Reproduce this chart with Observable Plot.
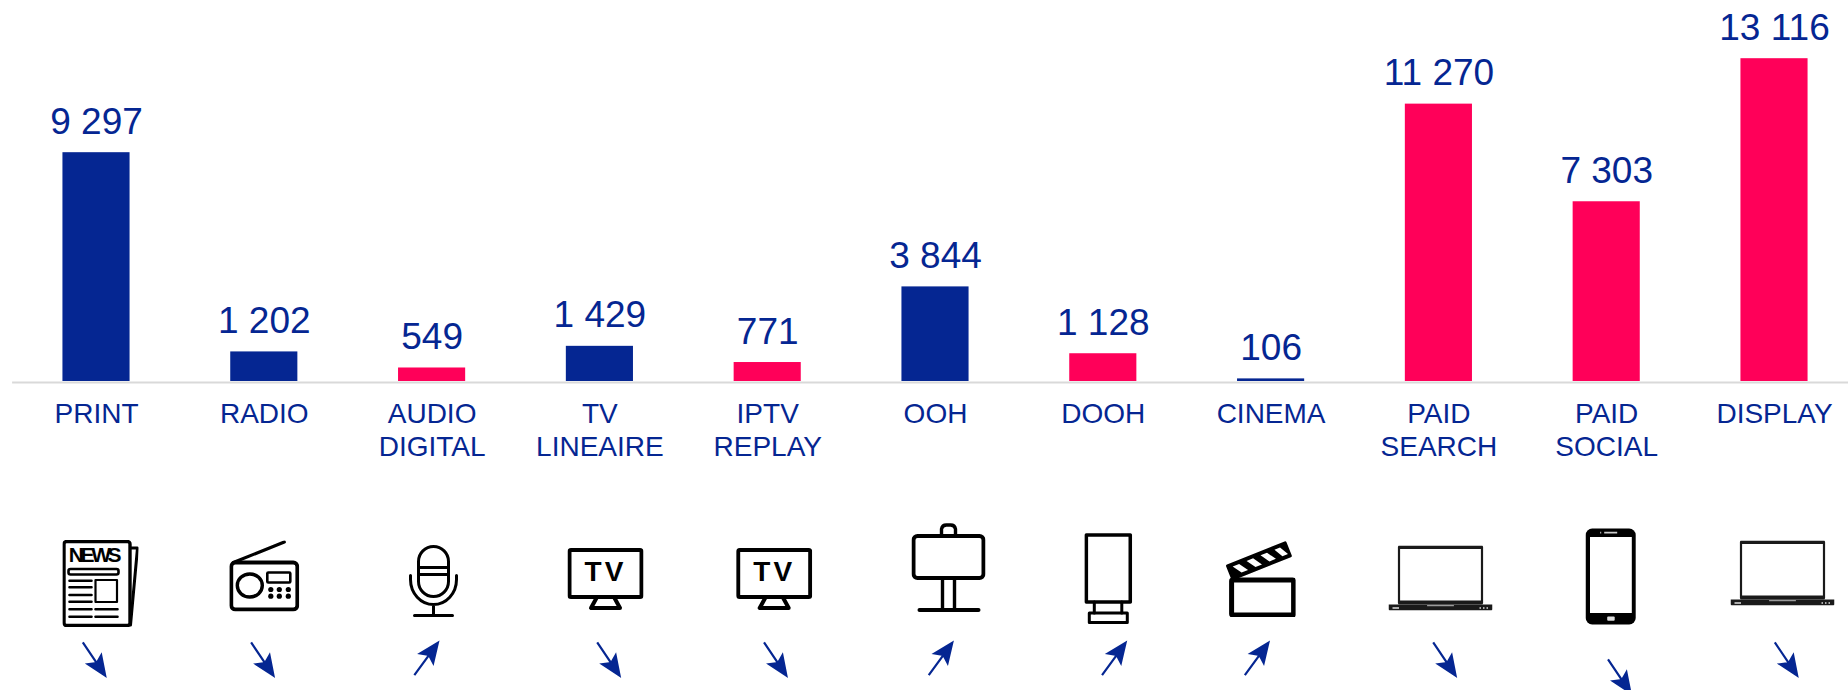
<!DOCTYPE html>
<html lang="fr">
<head>
<meta charset="utf-8">
<script src="https://cdn.jsdelivr.net/npm/d3@7"></script>
<script src="https://cdn.jsdelivr.net/npm/@observablehq/plot@0.6"></script>
<style>
html,body{margin:0;padding:0;background:#fff;overflow:hidden}
.news-word text{letter-spacing:-3.4px}
.tv-word text{letter-spacing:3px}
</style>
</head>
<body>
<div id="chart"></div>
<script>
// Data
const categories = ["PRINT","RADIO","AUDIO\nDIGITAL","TV\nLINEAIRE","IPTV\nREPLAY","OOH","DOOH","CINEMA","PAID\nSEARCH","PAID\nSOCIAL","DISPLAY"];
const values = [9297,1202,549,1429,771,3844,1128,106,11270,7303,13116];
const kinds = ["offline","offline","digital","offline","digital","offline","digital","offline","digital","digital","digital"];
const trends = ["down","down","up","down","down","up","up","up","down","down","down"];

// Styles
const BLUE = "#052692", PINK = "#FF0059", GREY = "#D9D9D9";
const FONT = "'Liberation Sans', Arial, sans-serif";
const group = n => String(n).replace(/\B(?=(\d{3})+$)/g, " ");
const rows = categories.map((category,i)=>({category,value:values[i],kind:kinds[i],trend:trends[i]}));

// Pictograms
const K = 'stroke="#000" fill="none" stroke-linecap="round" stroke-linejoin="round"';
const tvIcon = `<rect x="2" y="2" width="72" height="47" rx="1.5" stroke-width="4"/><path d="M29 50L23.5 60H52.5L47 50" stroke-width="4"/>`;
const laptopIcon = `<rect x="10.5" y="1.5" width="83" height="56" fill="#fff" stroke="#1a1a1a" stroke-width="2.2"/><rect x="10" y="0" width="84" height="3.5" fill="#1a1a1a" stroke="none"/><rect x="10" y="55" width="84" height="4" fill="#1a1a1a" stroke="none"/><path d="M0 59H104V63.5Q104 65 102.5 65H1.5Q0 65 0 63.5Z" fill="#1a1a1a" stroke="none"/><path d="M39 60.2H65" stroke="#bbb" stroke-width="1"/><path d="M4 62.5H10.5M91 62.5H92.5M94.5 62.5H96M98 62.5H99.5" stroke="#ddd" stroke-width="1.4" stroke-linecap="butt"/>`;
const icons = [
 {w:76,h:87,dx:4,dy:202,svg:`<rect x="1.5" y="1.5" width="66" height="84" rx="2.5" stroke-width="3.4" fill="#fff"/><path d="M68 8H75L68 85" stroke-width="3"/><rect x="6" y="29" width="50" height="5.5" rx="2" stroke-width="2.6"/><path d="M7 40.7H29M7 47.3H29M7 55H29M7 61.7H29M7 69.3H29M7 76.7H29M33 69.3H55M33 76.7H55" stroke-width="2.6"/><rect x="33" y="40" width="21.5" height="22" stroke-width="2.2"/>`},
 {w:70,h:71,dx:0,dy:194.5,svg:`<rect x="2" y="22" width="66" height="47" rx="4" stroke-width="3.8"/><path d="M4 22L55 1.5" stroke-width="3.2"/><ellipse cx="20.5" cy="45" rx="12.5" ry="11.5" stroke-width="3.4"/><rect x="38" y="32" width="23" height="10" rx="1" stroke-width="2.6"/><g fill="#000" stroke="none"><circle cx="41.5" cy="49" r="2.6"/><circle cx="50" cy="49" r="2.6"/><circle cx="59" cy="49" r="2.6"/><circle cx="41.5" cy="55.7" r="2.6"/><circle cx="50" cy="55.7" r="2.6"/><circle cx="59" cy="55.7" r="2.6"/></g>`},
 {w:50,h:73,dx:1.4,dy:199.5,svg:`<rect x="10" y="2" width="30" height="50" rx="15" stroke-width="3"/><path d="M10 23H40M10 30H40" stroke-width="3"/><path d="M2 31V35A23 25 0 0 0 48 35V31M25 60V71M6 71H44" stroke-width="3"/>`},
 {w:76,h:62,dx:5.6,dy:197.5,svg:tvIcon,label:"TV",labelDy:191,labelDx:5.6},
 {w:76,h:62,dx:6.5,dy:197.5,svg:tvIcon,label:"TV",labelDy:191,labelDx:6.5},
 {w:74,h:89,dx:13,dy:186,svg:`<path d="M30 12V6A5 5 0 0 1 35 2H39A5 5 0 0 1 44 6V12" stroke-width="3.4"/><rect x="2" y="13" width="70" height="42" rx="4" stroke-width="4"/><path d="M31 55V87M43 55V87" stroke-width="3.4"/><path d="M8 87H67" stroke-width="4"/>`},
 {w:48,h:91,dx:5,dy:197,svg:`<rect x="2" y="2" width="44" height="67" stroke-width="3.6"/><path d="M10 69V80M37.5 69V80" stroke-width="3"/><rect x="5" y="80" width="38" height="9.5" stroke-width="3"/>`},
 {w:71,h:77,dx:-11,dy:197,svg:`<rect x="7" y="40" width="62" height="35" rx="1" stroke-width="5"/><g transform="translate(1,25) rotate(-21.8)"><rect x="0" y="0" width="65" height="17" rx="1.5" fill="#000" stroke="none"/><path d="M6 4L13 4L19 13L12 13ZM21 4L28 4L34 13L27 13ZM36 4L43 4L49 13L42 13ZM51 4L57 4L62 13L56 13Z" fill="#fff" stroke="none"/></g>`},
 {w:104,h:65,dx:1.6,dy:196.5,svg:laptopIcon},
 {w:51,h:97,dx:4,dy:195,svg:`<rect x="0.5" y="0.5" width="50" height="96" rx="6.5" fill="#000" stroke="none"/><rect x="4.8" y="9" width="41.8" height="76" fill="#fff" stroke="none"/><path d="M19 4.6H32M15 4.6H16" stroke="#ccc" stroke-width="1.6" stroke-linecap="butt"/><rect x="22" y="88.6" width="7.5" height="4.2" rx="1" fill="#ddd" stroke="none"/>`},
 {w:104,h:65,dx:8,dy:191.5,svg:laptopIcon}
];
const iconSrc = ic => "data:image/svg+xml," + encodeURIComponent(`<svg xmlns="http://www.w3.org/2000/svg" width="${ic.w}" height="${ic.h}" viewBox="0 0 ${ic.w} ${ic.h}"><g ${K}>${ic.svg}</g></svg>`);

// Arrow placement beneath each category
const arrowDx = [-2.5,-2,-6,8.5,7.5,5,10.5,-14.5,5.5,12.5,11.5];
const arrowDy = [277.5,277.5,277.5,277.5,277.5,277.5,277.5,277.5,277.5,294.5,277.5];
const arrowShape = {
  draw(ctx, l) {
    ctx.moveTo(0, 0); ctx.lineTo(0, -l + 12);
    ctx.moveTo(0, -l); ctx.lineTo(8, -l + 19); ctx.lineTo(0, -l + 15); ctx.lineTo(-8, -l + 19); ctx.closePath();
  }
};

const plot = Plot.plot({
  width: 1848, height: 690,
  marginLeft: 12.1, marginRight: -9.9, marginTop: 58.2, marginBottom: 309,
  style: {fontFamily: FONT, background: "#fff", overflow: "hidden"},
  x: {domain: categories, padding: 0.6, paddingOuter: 0.3, round: false, axis: null},
  y: {domain: [0, 13116], axis: null},
  color: {domain: ["offline","digital"], range: [BLUE, PINK]},
  marks: [
    Plot.ruleY([0], {stroke: GREY, strokeWidth: 2, dy: 1}),
    Plot.barY(rows, {x: "category", y: "value", fill: "kind"}),
    Plot.text(rows, {x: "category", y: "value", text: d => group(d.value), dy: -19, lineAnchor: "bottom", fontSize: 37, fill: BLUE}),
    Plot.axisX({tickSize: 0, tickPadding: 18, fontSize: 28, fill: BLUE, label: null, lineHeight: 1.18}),
    ...rows.map((d,i) => Plot.image([d], {x: "category", y: () => 0, src: () => iconSrc(icons[i]), width: icons[i].w, height: icons[i].h, dx: icons[i].dx, dy: icons[i].dy})),
    Plot.text([rows[0]], {x: "category", y: () => 0, text: () => "NEWS", dx: -3, dy: 174, fontSize: 21, fontWeight: 700, fill: "#000", className: "news-word"}),
    ...[3,4].map(i => Plot.text([rows[i]], {x: "category", y: () => 0, text: () => icons[i].label, dx: icons[i].labelDx, dy: icons[i].labelDy, fontSize: 28, fontWeight: 700, fill: "#000", className: "tv-word"})),
    ...rows.map((d,i) => Plot.vector([d], {x: "category", y: () => 0, length: 40, rotate: v => v.trend === "up" ? 36 : 146, anchor: "middle", shape: arrowShape, stroke: BLUE, fill: BLUE, strokeWidth: 2.2, strokeLinejoin: "miter", strokeLinecap: "butt", dx: arrowDx[i], dy: arrowDy[i]}))
  ]
});
document.getElementById("chart").append(plot);
</script>
</body>
</html>
